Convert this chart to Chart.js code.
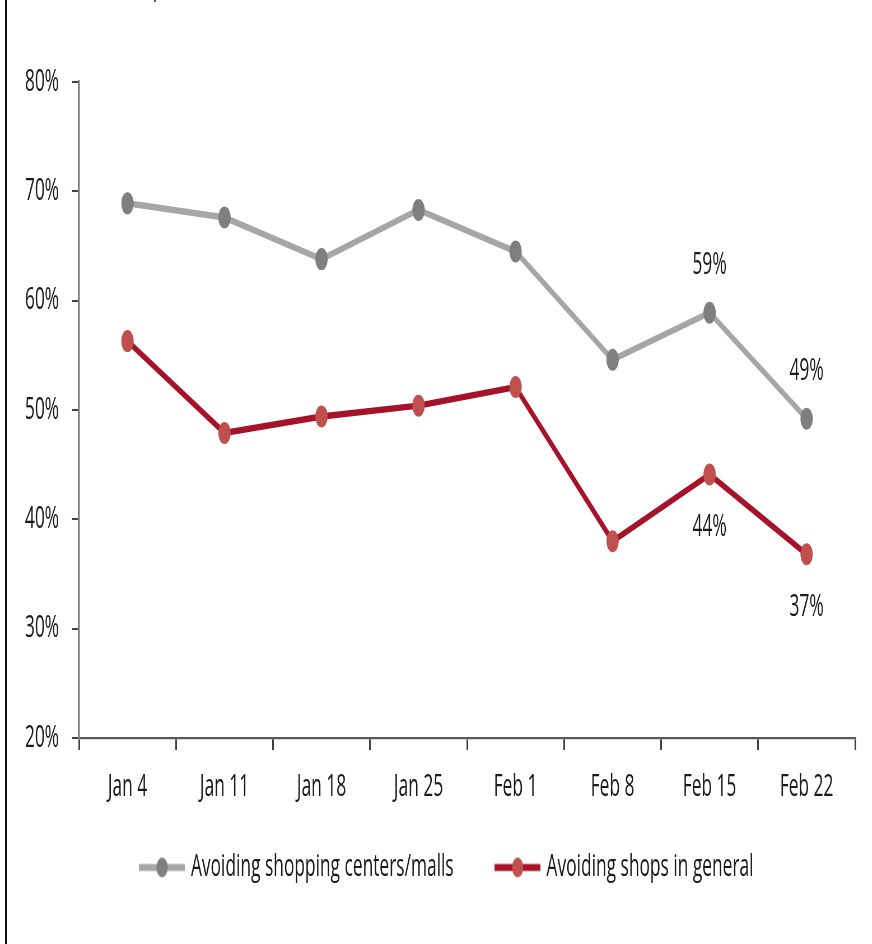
<!DOCTYPE html>
<html>
<head>
<meta charset="utf-8">
<script src="https://cdn.jsdelivr.net/npm/chart.js@4.4.1/dist/chart.umd.min.js"></script>
<style>
  html, body { margin: 0; padding: 0; background: #fff; overflow: hidden; }
  #page { position: relative; width: 872px; height: 944px; overflow: hidden; }
  #frame { position: absolute; left: 5px; top: 0; width: 2px; height: 944px; background: #111; }
  /* the source picture is squeezed sideways, so draw wide and scale down */
  #wrap { position: absolute; left: 0; top: 0; width: 1557px; height: 944px; transform: scaleX(0.56); transform-origin: 0 0; }
  #title { position: absolute; left: 148px; top: -32px; font: 31px "Open Sans", Arial, sans-serif; line-height: 31px; color: #1a1a1a; white-space: nowrap; }
</style>
</head>
<body>
<div id="page">
  <div id="frame"></div>
  <div id="wrap">
    <div id="title">(% of respondents)</div>
    <canvas id="myChart"></canvas>
  </div>
</div>
<script>
var weeks = ['Jan 4', 'Jan 11', 'Jan 18', 'Jan 25', 'Feb 1', 'Feb 8', 'Feb 15', 'Feb 22'];
var mallsValues = [68.9, 67.6, 63.8, 68.3, 64.5, 54.6, 58.9, 49.2];
var shopsValues = [56.3, 47.9, 49.4, 50.4, 52.1, 38.0, 44.1, 36.8];
var mallsLabels = ['', '', '', '', '', '', '59%', '49%'];
var shopsLabels = ['', '', '', '', '', '', '44%', '37%'];
var yTicks = [20, 30, 40, 50, 60, 70, 80];

var fontFamily = '"Open Sans", Arial, sans-serif';
var textColor = '#1a1a1a';

// legend marker: a short line with a dot in the middle
function legendMarker(lineColor, dotColor) {
    var c = document.createElement('canvas');
    c.width = 82;
    c.height = 24;
    var g = c.getContext('2d');
    g.strokeStyle = lineColor;
    g.lineWidth = 7;
    g.beginPath();
    g.moveTo(0, 12);
    g.lineTo(82, 12);
    g.stroke();
    g.fillStyle = dotColor;
    g.beginPath();
    g.arc(41, 12, 10, 0, Math.PI * 2);
    g.fill();
    return c;
}

// draws the few value labels next to their points
var valueLabels = {
    id: 'valueLabels',
    afterDatasetsDraw: function(chart) {
        var ctx = chart.ctx;
        ctx.save();
        ctx.font = '31px ' + fontFamily;
        ctx.fillStyle = textColor;
        ctx.textAlign = 'center';
        ctx.textBaseline = 'middle';
        chart.data.datasets.forEach(function(ds, i) {
            var meta = chart.getDatasetMeta(i);
            ds.valueText.forEach(function(txt, j) {
                if (!txt) return;
                var pt = meta.data[j];
                ctx.fillText(txt, pt.x, pt.y + ds.labelOffset);
            });
        });
        ctx.restore();
    }
};

// nudge the legend row a bit to the right, like the original
var legendShift = {
    id: 'legendShift',
    afterLayout: function(chart) {
        chart.legend.left += 36;
        chart.legend.right += 36;
    }
};

var ctx = document.getElementById('myChart').getContext('2d');
var myChart = new Chart(ctx, {
    type: 'line',
    data: {
        labels: weeks,
        datasets: [{
            label: 'Avoiding shopping centers/malls',
            data: mallsValues,
            valueText: mallsLabels,
            labelOffset: -48,
            borderColor: '#a6a6a6',
            borderWidth: 6.5,
            pointBackgroundColor: '#7f7f7f',
            pointBorderWidth: 0,
            pointRadius: 11,
            pointStyle: 'circle',
            tension: 0
        }, {
            label: 'Avoiding shops in general',
            data: shopsValues,
            valueText: shopsLabels,
            labelOffset: 53,
            borderColor: '#a5122a',
            borderWidth: 6.5,
            pointBackgroundColor: '#c0504d',
            pointBorderWidth: 0,
            pointRadius: 11,
            pointStyle: 'circle',
            tension: 0
        }]
    },
    options: {
        responsive: true,
        maintainAspectRatio: false,
        animation: false,
        layout: {
            padding: { top: 82, left: 0, right: 30, bottom: 51 }
        },
        scales: {
            x: {
                offset: true,
                afterFit: function(scale) { scale.height = 76; },
                grid: {
                    offset: true,
                    drawOnChartArea: false,
                    drawTicks: true,
                    tickLength: 12,
                    color: '#404040',
                    lineWidth: 3
                },
                border: { color: '#595959', width: 2.3 },
                ticks: {
                    color: textColor,
                    padding: 19,
                    maxRotation: 0,
                    font: { family: fontFamily, size: 31 }
                }
            },
            y: {
                min: 20,
                max: 80,
                afterFit: function(scale) { scale.width = 141; },
                afterBuildTicks: function(scale) {
                    scale.ticks = yTicks.map(function(v) { return { value: v }; });
                },
                grid: {
                    drawOnChartArea: false,
                    drawTicks: true,
                    tickLength: 12.5,
                    color: '#404040',
                    lineWidth: 2
                },
                border: { color: '#7f7f7f', width: 3.5 },
                ticks: {
                    color: textColor,
                    padding: 23,
                    font: { family: fontFamily, size: 31 },
                    callback: function(v) { return v + '%'; }
                }
            }
        },
        plugins: {
            legend: {
                position: 'bottom',
                labels: {
                    usePointStyle: true,
                    pointStyleWidth: 72,
                    padding: 38,
                    color: textColor,
                    font: { family: fontFamily, size: 31 },
                    generateLabels: function(chart) {
                        return chart.data.datasets.map(function(ds, i) {
                            return {
                                // extra spaces after the first name widen the gap between entries
                                text: i === 0 ? ds.label + '     ' : ds.label,
                                pointStyle: legendMarker(ds.borderColor, ds.pointBackgroundColor),
                                fillStyle: ds.pointBackgroundColor,
                                strokeStyle: ds.borderColor,
                                lineWidth: 0,
                                fontColor: textColor,
                                datasetIndex: i
                            };
                        });
                    }
                }
            },
            tooltip: { enabled: false }
        }
    },
    plugins: [valueLabels, legendShift]
});
</script>
</body>
</html>
